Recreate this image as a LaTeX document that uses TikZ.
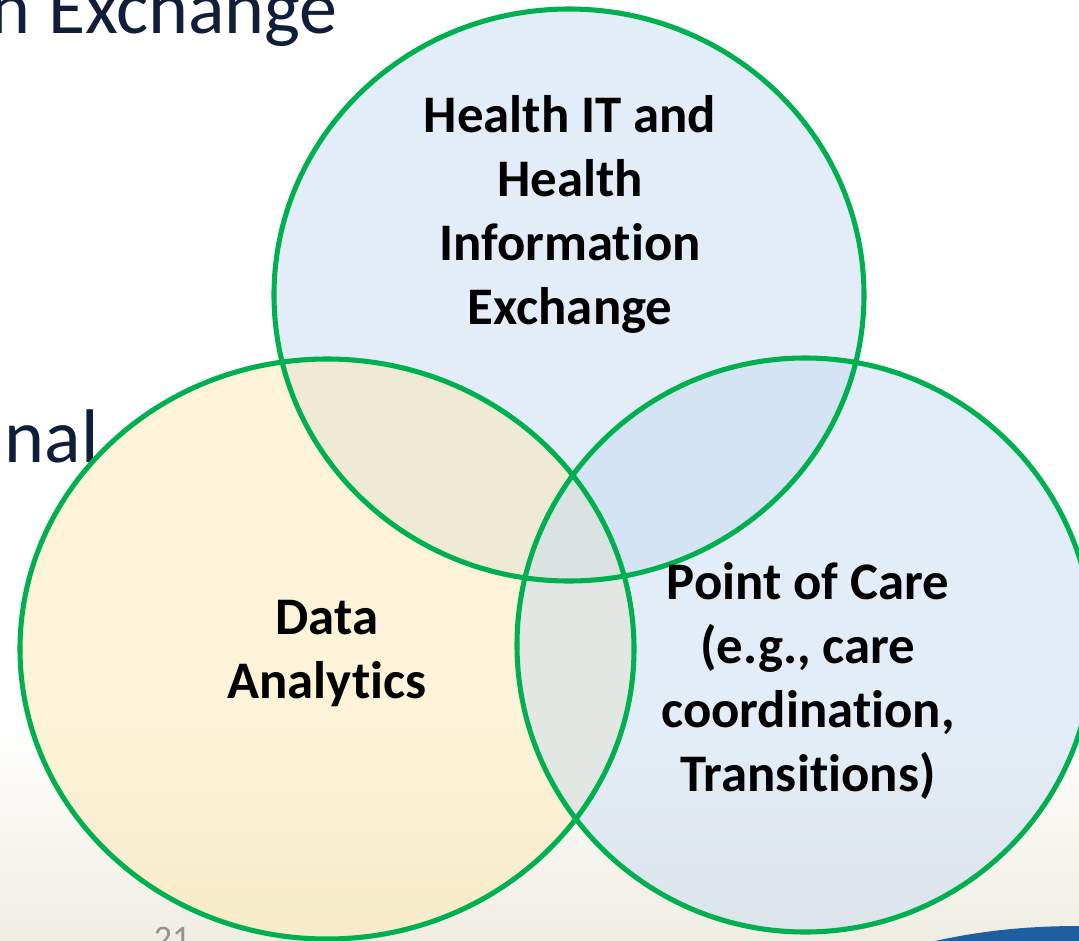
\documentclass[tikz,border=0pt]{standalone}
\usepackage{fontspec}
\setmainfont{Carlito}[Ligatures={NoCommon,NoRequired}]
\usepackage{xcolor}
\usetikzlibrary{positioning}
\usetikzlibrary{calc}

\definecolor{setgreen}{RGB}{0,176,80}
\definecolor{setblue}{RGB}{201,221,241}
\definecolor{setyellow}{RGB}{252,233,178}
\definecolor{slidenavy}{RGB}{17,30,58}
\definecolor{slidebeige}{RGB}{240,237,227}
\definecolor{slideblue}{RGB}{31,95,159}

\begin{document}
\begin{tikzpicture}[x=0.75pt, y=-0.75pt]
% tikz settings
\tikzstyle{setfill} = [fill opacity=0.5]
\tikzstyle{setline} = [draw=setgreen, line width=3.8pt]
\tikzstyle{setlabel} = [align=center, text=black, inner sep=0pt,
    font=\bfseries\fontsize{39.6}{48}\selectfont]
\tikzstyle{slidetext} = [anchor=base east, inner sep=0pt, text=slidenavy,
    font=\fontsize{57}{66}\selectfont]

% the slide behind
\useasboundingbox (0,0) rectangle (1079,940);
\clip (0,0) rectangle (1079,940);
\fill[white] (0,0) rectangle (1079,940);
\shade[top color=white, bottom color=slidebeige] (0,720) rectangle (1079,940);
\node[slidetext] (slidetitle) at (338,33) {n Exchange};
\node[slidetext] (slidebullet) at (99,462) {nal};
\node[anchor=base, inner sep=0pt, text=gray!85, font=\fontsize{27}{30}\selectfont] (slideno) at (172,950) {21};
\fill[slideblue] (935,941) .. controls (985,930) and (1030,926) .. (1080,926) -- (1080,941) -- cycle;

% the three sets
\coordinate (topc) at (569,295);
\coordinate (leftc) at (327,649);
\coordinate (rightc) at (805,645);
\fill[setfill, setblue] (topc) ellipse [x radius=295, y radius=286];
\fill[setfill, setyellow] (leftc) ellipse [x radius=307, y radius=290];
\fill[setfill, setblue] (rightc) ellipse [x radius=288, y radius=287];
\foreach \c/\rx/\ry in {topc/295/286, leftc/307/290, rightc/288/287}
    \draw[setline] (\c) ellipse [x radius=\rx, y radius=\ry];

% labels
\node[setlabel] (healthit) at (570,214) {Health IT and\\Health\\Information\\Exchange};
\node[setlabel] (analytics) at (327,654) {Data\\Analytics};
\node[setlabel] (pointofcare) at (808,681) {Point of Care\\(e.g., care\\coordination,\\Transitions)};
\end{tikzpicture}
\end{document}
